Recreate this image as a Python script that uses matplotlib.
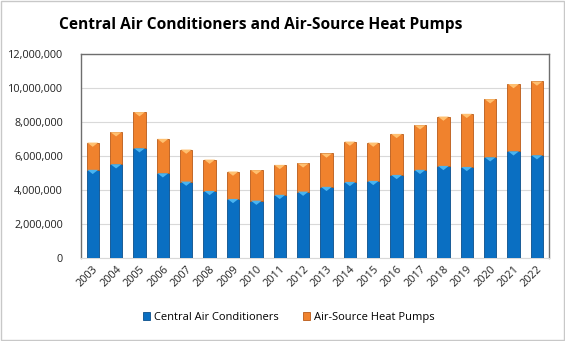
import numpy as np
import matplotlib.pyplot as plt
from matplotlib.ticker import FuncFormatter

plt.rcParams['font.family'] = ['Open Sans', 'DejaVu Sans']

years = [str(y) for y in range(2003, 2023)]
# shipments, units
central_ac = [5180000, 5510000, 6450000, 4980000, 4490000, 3940000, 3470000, 3370000,
              3710000, 3900000, 4180000, 4470000, 4530000, 4880000, 5180000, 5410000,
              5350000, 5920000, 6270000, 6040000]
totals = [6780000, 7390000, 8570000, 7000000, 6370000, 5780000, 5080000, 5160000,
          5470000, 5560000, 6140000, 6840000, 6780000, 7290000, 7800000, 8310000,
          8470000, 9330000, 10220000, 10370000]
heat_pumps = [t - c for t, c in zip(totals, central_ac)]

fig = plt.figure(figsize=(5.65, 3.41), dpi=100)
ax = fig.add_axes([0.1434, 0.2434, 0.8276, 0.5991])

x = np.arange(len(years))
w = 0.53
ax.bar(x, central_ac, w, color='#0A6FC2', edgecolor='#0B4F8A', linewidth=0.6,
       label='Central Air Conditioners', zorder=3)
ax.bar(x, heat_pumps, w, bottom=central_ac, color='#F0822D', edgecolor='#B85A18',
       linewidth=0.6, label='Air-Source Heat Pumps', zorder=3)

# bevel highlight on top of each segment
bev = 250000
for xi, c, t in zip(x, central_ac, totals):
    ax.fill([xi - w / 2 + 0.03, xi + w / 2 - 0.03, xi], [c, c, c - bev],
            color='#49B4F0', zorder=4, linewidth=0)
    ax.fill([xi - w / 2 + 0.03, xi + w / 2 - 0.03, xi], [t, t, t - bev],
            color='#FFC070', zorder=4, linewidth=0)

ax.set_xlim(-0.5, len(years) - 0.5)
ax.set_ylim(0, 12000000)
ax.set_yticks(range(0, 12000001, 2000000))
ax.yaxis.set_major_formatter(FuncFormatter(lambda v, p: f'{int(v):,}'))
ax.set_xticks(x)
ax.set_xticklabels(years, rotation=45, ha='right', rotation_mode='anchor')
ax.tick_params(axis='both', length=0, labelsize=7.8, colors='#222222')
ax.tick_params(axis='x', pad=4)
ax.tick_params(axis='y', pad=13)
ax.grid(axis='y', color='#D9D9D9', linewidth=0.8, zorder=0)

for side in ['left', 'top', 'right']:
    ax.spines[side].set_color('#6E6E6E')
    ax.spines[side].set_linewidth(1.0)
ax.spines['bottom'].set_color('#D9D9D9')

fig.text(0.462, 0.928, 'Central Air Conditioners and Air-Source Heat Pumps',
         ha='center', va='center', fontsize=11.2, fontweight='bold')

ax.legend(loc='upper center', bbox_to_anchor=(0.445, -0.215), ncol=2, frameon=False,
          fontsize=8, handlelength=0.6, handleheight=0.6, columnspacing=2.2,
          handletextpad=0.4)

# thin frame round the figure
fig.patches.append(plt.Rectangle((0.001, 0.002), 0.997, 0.995, transform=fig.transFigure,
                                 fill=False, edgecolor='#C8C8C8', linewidth=1.0))

fig.savefig('out.png', dpi=100)
